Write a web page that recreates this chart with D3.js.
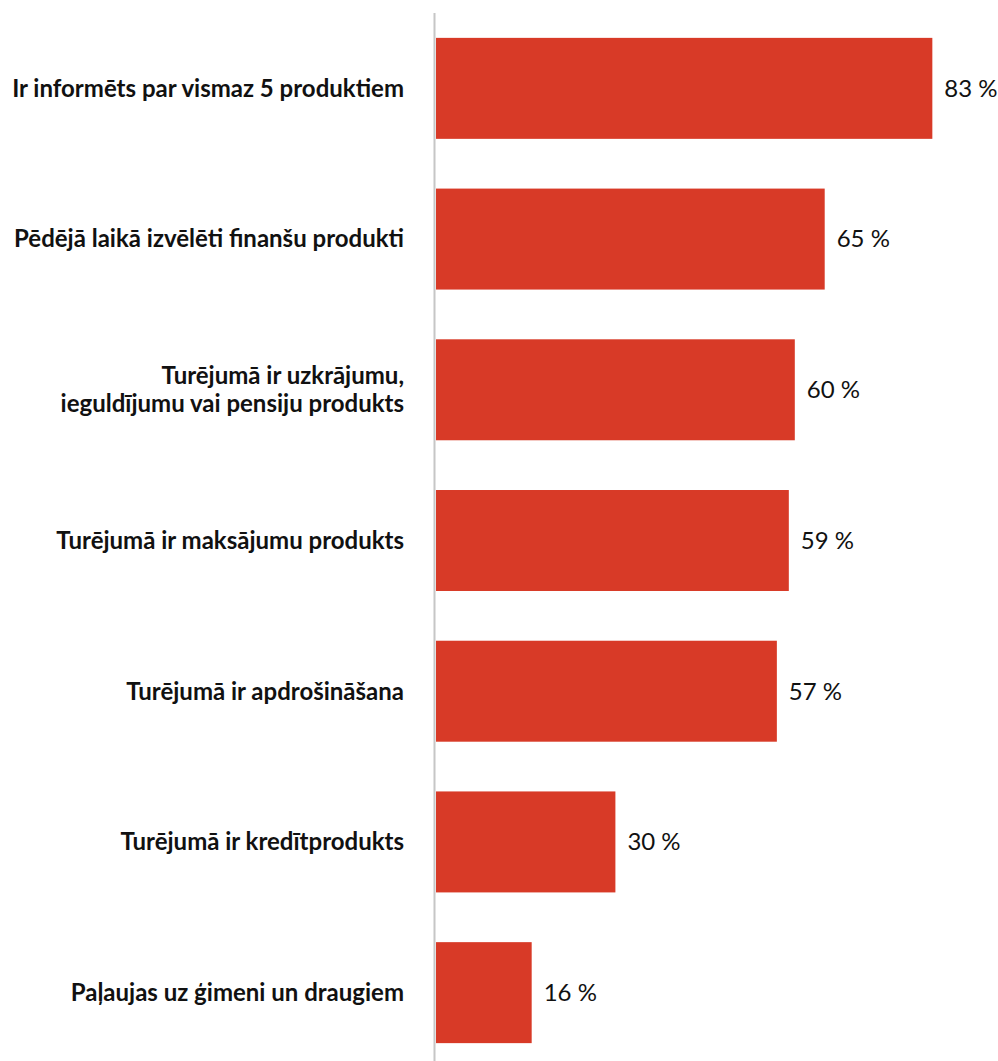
<!DOCTYPE html>
<html>
<head>
<meta charset="utf-8">
<script src="https://cdn.jsdelivr.net/npm/d3@7"></script>
<style>
  html, body { margin: 0; padding: 0; background: #fff; }
  svg { display: block; }
</style>
</head>
<body>
<svg id="chart" width="998" height="1061"></svg>
<script>
const categories = [
  ["Ir informēts par vismaz 5 produktiem"],
  ["Pēdējā laikā izvēlēti finanšu produkti"],
  ["Turējumā ir uzkrājumu,", "ieguldījumu vai pensiju produkts"],
  ["Turējumā ir maksājumu produkts"],
  ["Turējumā ir apdrošināšana"],
  ["Turējumā ir kredītprodukts"],
  ["Paļaujas uz ģimeni un draugiem"]
];
const values = [83, 65, 60, 59, 57, 30, 16];
const valueLabels = ["83 %", "65 %", "60 %", "59 %", "57 %", "30 %", "16 %"];

const svg = d3.select("#chart");
const axisX = 436;
const x = d3.scaleLinear().domain([0, 100]).range([axisX, axisX + 598]);
const ids = d3.range(values.length);
const y = d3.scaleBand().domain(ids).range([13, 1068]).paddingInner(0.33).paddingOuter(0.165);

svg.selectAll("rect.bar").data(ids).join("rect")
  .attr("class", "bar")
  .attr("x", x(0))
  .attr("y", i => y(i))
  .attr("width", i => x(values[i]) - x(0))
  .attr("height", y.bandwidth())
  .attr("fill", "#d83a27");

svg.append("line")
  .attr("x1", axisX - 1.5).attr("x2", axisX - 1.5)
  .attr("y1", 13).attr("y2", 1061)
  .attr("stroke", "#c6c6c6").attr("stroke-width", 2);

const lab = svg.selectAll("text.cat").data(ids).join("text")
  .attr("class", "cat")
  .attr("text-anchor", "end")
  .attr("font-family", "Lato, 'Open Sans', sans-serif")
  .attr("font-weight", 700)
  .attr("font-size", 24)
  .attr("fill", "#111");
lab.each(function(i) {
  const lines = categories[i];
  const cy = y(i) + y.bandwidth() / 2;
  const lh = 28;
  const t = d3.select(this);
  lines.forEach((l, k) => {
    t.append("tspan")
      .attr("x", 404)
      .attr("y", cy + (k - (lines.length - 1) / 2) * lh)
      .attr("dy", "0.35em")
      .text(l);
  });
});

svg.selectAll("text.val").data(ids).join("text")
  .attr("class", "val")
  .attr("x", i => x(values[i]) + 12)
  .attr("y", i => y(i) + y.bandwidth() / 2)
  .attr("dy", "0.35em")
  .attr("font-family", "Lato, 'Open Sans', sans-serif")
  .attr("font-size", 24)
  .attr("fill", "#111")
  .text(i => valueLabels[i]);
</script>
</body>
</html>
